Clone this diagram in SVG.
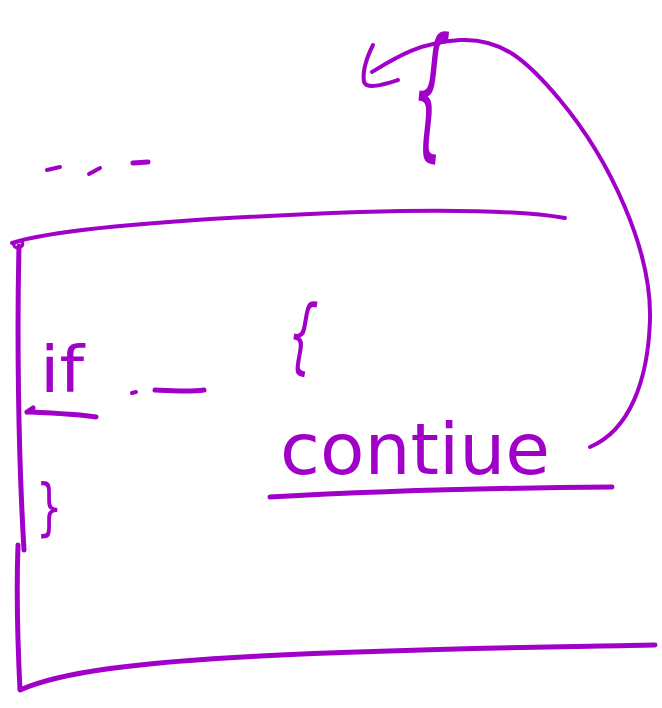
<svg xmlns="http://www.w3.org/2000/svg" width="662" height="708" viewBox="0 0 662 708">
<style>
.s{fill:none;stroke:#a000c8;stroke-linecap:round;stroke-linejoin:round}
.t{fill:#a000c8;font-family:"DejaVu Sans","Liberation Sans",sans-serif}
</style>
<rect width="662" height="708" fill="#fff"/>
<g id="dashes">
<path class="s" stroke-width="4" d="M47 170 L60 167"/>
<path class="s" stroke-width="4" d="M89 174 L100 168"/>
<path class="s" stroke-width="5" d="M133 163 L148 162"/>
</g>
<g id="frame">
<path class="s" stroke-width="4" d="M12 243 C60 228 200 218 360 212 C460 209 530 212 565 218"/>
<path class="s" stroke-width="3" d="M20 241 C12 243 12 247 18 248 C24 247 24 242 20 241"/>
<path class="s" stroke-width="5" d="M19 246 C17 330 18 450 24 550"/>
<path class="s" stroke-width="5" d="M18 545 C16 600 18 650 20 690 C60 672 140 662 260 656 C420 648 560 647 655 645"/>
</g>
<g id="if-block">
<text class="t" x="40" y="392" font-size="64" textLength="44" lengthAdjust="spacingAndGlyphs">if</text>
<path class="s" stroke-width="5" d="M27 412 C50 413 75 414 96 417 M27 412 L33 408"/>
<text class="t" transform="translate(36 528) scale(0.8 1.2)" font-size="52">}</text>
<path class="s" stroke-width="4" d="M132 393 L136 392"/>
<path class="s" stroke-width="5" d="M155 390 C175 391 190 392 204 390"/>
<text class="t" transform="translate(284 360) rotate(10) scale(0.7 1.3)" font-size="64">{</text>
</g>
<g id="continue">
<text class="t" x="280" y="474" font-size="72" textLength="270" lengthAdjust="spacingAndGlyphs">contiue</text>
<path class="s" stroke-width="5" d="M270 497 C360 492 480 488 612 487"/>
</g>
<g id="brace-top">
<text class="t" transform="translate(407 138) rotate(6) scale(0.6 1.45)" font-size="100">{</text>
</g>
<g id="connectors">
<path class="s" stroke-width="4" d="M590 447 C630 430 648 380 650 320 C652 250 610 160 560 100 C525 58 500 38 460 40 C420 42 395 58 372 72"/>
<path class="s" stroke-width="4" d="M373 45 C368 55 362 70 364 82 C367 90 385 84 398 80"/>
</g>
</svg>
